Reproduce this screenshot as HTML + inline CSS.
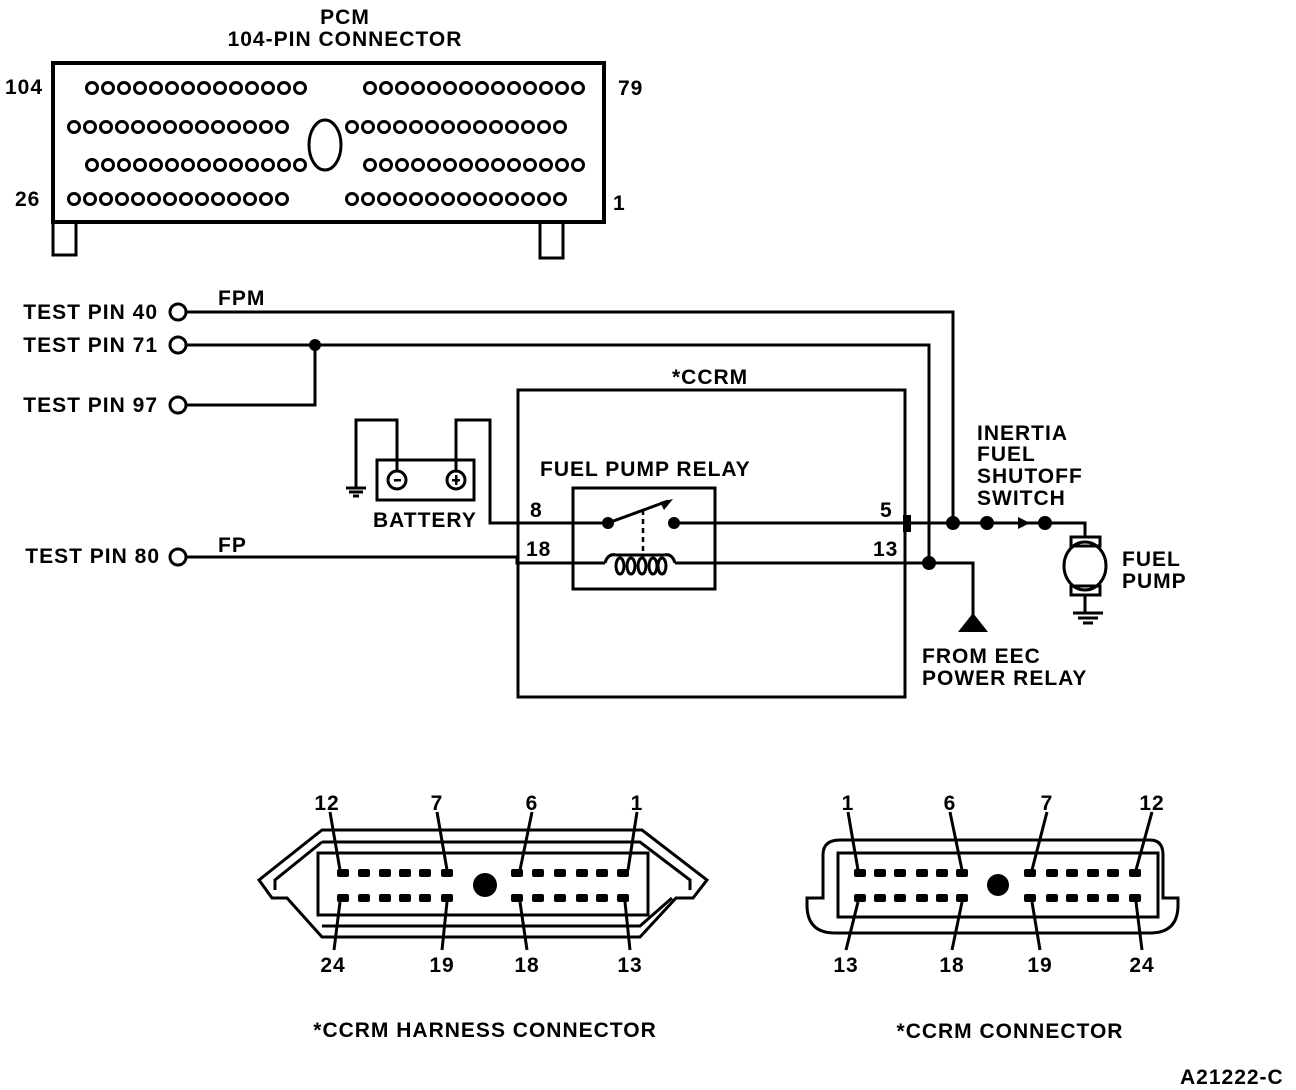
<!DOCTYPE html>
<html><head><meta charset="utf-8"><style>
html,body{margin:0;padding:0;background:#fff;}
svg{display:block;}
text{font-family:"Liberation Sans",sans-serif;font-weight:bold;font-size:21px;letter-spacing:1px;fill:#000;}
</style></head><body>
<svg width="1296" height="1090" viewBox="0 0 1296 1090" xmlns="http://www.w3.org/2000/svg">
<g fill="none" stroke="#000" stroke-width="3">
<!-- PCM -->
<rect x="53" y="63" width="551" height="159" stroke-width="4"/>
<path d="M53 222 V255 H76 V222 M540 224 V258 H563 V224"/>
<ellipse cx="325" cy="145" rx="16" ry="25"/>
</g>
<g fill="none" stroke="#000" stroke-width="3">
<g id="r1">
<circle cx="92" cy="88" r="5.5"/><circle cx="108" cy="88" r="5.5"/><circle cx="124" cy="88" r="5.5"/><circle cx="140" cy="88" r="5.5"/><circle cx="156" cy="88" r="5.5"/><circle cx="172" cy="88" r="5.5"/><circle cx="188" cy="88" r="5.5"/><circle cx="204" cy="88" r="5.5"/><circle cx="220" cy="88" r="5.5"/><circle cx="236" cy="88" r="5.5"/><circle cx="252" cy="88" r="5.5"/><circle cx="268" cy="88" r="5.5"/><circle cx="284" cy="88" r="5.5"/><circle cx="300" cy="88" r="5.5"/>
</g>
<use href="#r1" transform="translate(-18,39)"/>
<use href="#r1" transform="translate(0,77)"/>
<use href="#r1" transform="translate(-18,111)"/>
<use href="#r1" transform="translate(278,0)"/>
<use href="#r1" transform="translate(260,39)"/>
<use href="#r1" transform="translate(278,77)"/>
<use href="#r1" transform="translate(260,111)"/>
</g>
<text x="345" y="24" text-anchor="middle">PCM</text>
<text x="345" y="46" text-anchor="middle">104-PIN CONNECTOR</text>
<text x="5" y="94">104</text>
<text x="15" y="206">26</text>
<text x="618" y="95">79</text>
<text x="613" y="210">1</text>

<!-- test pins -->
<text x="158" y="319" text-anchor="end">TEST PIN 40</text>
<text x="158" y="352" text-anchor="end">TEST PIN 71</text>
<text x="158" y="412" text-anchor="end">TEST PIN 97</text>
<text x="160" y="563" text-anchor="end">TEST PIN 80</text>
<text x="218" y="305">FPM</text>
<text x="218" y="552">FP</text>
<g fill="none" stroke="#000" stroke-width="3">
<circle cx="178" cy="312" r="8"/><circle cx="178" cy="345" r="8"/><circle cx="178" cy="405" r="8"/><circle cx="178" cy="557" r="8"/>
<path d="M186 312 H953 V523"/>
<path d="M186 345 H929 V563"/>
<path d="M315 345 V405 H186"/>
<path d="M186 557 H517 L517 563 H605 M675 563 H973 V615"/>
<rect x="518" y="390" width="387" height="307"/>
<!-- battery -->
<rect x="377" y="460" width="97" height="40"/>
<circle cx="397" cy="480" r="9"/><circle cx="456" cy="480" r="9"/>
<path d="M397 471 V420 H356 V488 M346 488 H366 M349 492 H363 M353 496 H359"/>
<path d="M456 471 V420 H490 V523 H608"/>
<!-- relay -->
<rect x="573" y="488" width="142" height="101"/>
<path d="M608 523 L668 501" />
<path d="M643 510 V557" stroke-dasharray="5,4" stroke-width="2.5"/>
<path d="M674 523 H1085 V537"/>
<path d="M605 563 Q608 553 616 555 M664 555 Q672 553 675 563"/>
<path d="M616 555 H664"/>
<!-- pump -->
<rect x="1071" y="537" width="29" height="9"/>
<ellipse cx="1085" cy="566" rx="21" ry="24"/>
<rect x="1071" y="586" width="29" height="9"/>
<path d="M1085 595 V613 M1073 613 H1103 M1078 618 H1098 M1083 623 H1093"/>
</g>
<g fill="#000">
<text x="530" y="517">8</text>
<text x="526" y="556">18</text>
<text x="880" y="517">5</text>
<text x="873" y="556">13</text>
<text x="540" y="476">FUEL PUMP RELAY</text>
<text x="672" y="384">*CCRM</text>
<text x="373" y="527">BATTERY</text>
<rect x="394" y="479" width="7" height="2.5"/>
<rect x="452" y="479" width="8" height="2.5"/><rect x="455" y="475" width="2.5" height="10"/>
<circle cx="608" cy="523" r="6"/><circle cx="674" cy="523" r="6"/>
<polygon points="673,499 660,502 664,510"/>
<ellipse cx="620" cy="566" rx="4" ry="8" fill="none" stroke="#000" stroke-width="3"/>
<ellipse cx="631" cy="566" rx="4" ry="8" fill="none" stroke="#000" stroke-width="3"/>
<ellipse cx="642" cy="566" rx="4" ry="8" fill="none" stroke="#000" stroke-width="3"/>
<ellipse cx="653" cy="566" rx="4" ry="8" fill="none" stroke="#000" stroke-width="3"/>
<ellipse cx="662" cy="566" rx="4" ry="8" fill="none" stroke="#000" stroke-width="3"/>
<circle cx="315" cy="345" r="6"/>
<rect x="903" y="515" width="8" height="17"/>
<circle cx="953" cy="523" r="7"/><circle cx="987" cy="523" r="7"/><circle cx="1045" cy="523" r="7"/>
<polygon points="1018,517 1030,523 1018,529"/>
<circle cx="929" cy="563" r="7"/>
<polygon points="973,613 958,632 988,632"/>
<text x="977" y="440">INERTIA</text>
<text x="977" y="461">FUEL</text>
<text x="977" y="483">SHUTOFF</text>
<text x="977" y="505">SWITCH</text>
<text x="1122" y="566">FUEL</text>
<text x="1122" y="588">PUMP</text>
<text x="922" y="663">FROM EEC</text>
<text x="922" y="685">POWER RELAY</text>
</g>

<!-- harness connector -->
<g fill="none" stroke="#000" stroke-width="3">
<path d="M322 830 H642 L707 880 L693 898 H676 L640 937 H322 L287 898 H272 L259 880 Z"/>
<path d="M322 842 H640 L690 880 V890 M322 842 L275 880 V890 M322 926 H640 L672 898"/>
<rect x="318" y="853" width="330" height="62"/>
<path d="M330 812 L340 870 M437 812 L447 870 M532 812 L520 870 M637 812 L628 870"/>
<path d="M334 950 L340 902 M442 950 L447 902 M527 950 L520 902 M630 950 L625 902"/>
</g>
<g fill="#000">
<g id="hp">
<rect x="337" y="869" width="12" height="8" rx="2"/><rect x="358" y="869" width="12" height="8" rx="2"/><rect x="379" y="869" width="12" height="8" rx="2"/><rect x="399" y="869" width="12" height="8" rx="2"/><rect x="419" y="869" width="12" height="8" rx="2"/><rect x="441" y="869" width="12" height="8" rx="2"/>
<rect x="511" y="869" width="12" height="8" rx="2"/><rect x="532" y="869" width="12" height="8" rx="2"/><rect x="554" y="869" width="12" height="8" rx="2"/><rect x="576" y="869" width="12" height="8" rx="2"/><rect x="596" y="869" width="12" height="8" rx="2"/><rect x="617" y="869" width="12" height="8" rx="2"/>
</g>
<use href="#hp" transform="translate(0,25)"/>
<circle cx="485" cy="885" r="12"/>
<text x="327" y="810" text-anchor="middle">12</text>
<text x="437" y="810" text-anchor="middle">7</text>
<text x="532" y="810" text-anchor="middle">6</text>
<text x="637" y="810" text-anchor="middle">1</text>
<text x="333" y="972" text-anchor="middle">24</text>
<text x="442" y="972" text-anchor="middle">19</text>
<text x="527" y="972" text-anchor="middle">18</text>
<text x="630" y="972" text-anchor="middle">13</text>
</g>

<!-- ccrm connector -->
<g fill="none" stroke="#000" stroke-width="3">
<path d="M807 898 H823 V855 Q823 840 840 840 H1150 Q1163 840 1163 855 V898 H1178 V905 Q1178 933 1150 933 H835 Q807 933 807 905 Z"/>
<rect x="838" y="853" width="320" height="64"/>
<path d="M848 812 L858 870 M950 812 L962 870 M1047 812 L1032 870 M1152 812 L1136 870"/>
<path d="M846 950 L858 902 M952 950 L962 902 M1040 950 L1032 902 M1142 950 L1136 902"/>
</g>
<g fill="#000">
<g id="cp">
<rect x="854" y="869" width="12" height="8" rx="2"/><rect x="874" y="869" width="12" height="8" rx="2"/><rect x="894" y="869" width="12" height="8" rx="2"/><rect x="916" y="869" width="12" height="8" rx="2"/><rect x="936" y="869" width="12" height="8" rx="2"/><rect x="956" y="869" width="12" height="8" rx="2"/>
<rect x="1024" y="869" width="12" height="8" rx="2"/><rect x="1046" y="869" width="12" height="8" rx="2"/><rect x="1066" y="869" width="12" height="8" rx="2"/><rect x="1087" y="869" width="12" height="8" rx="2"/><rect x="1107" y="869" width="12" height="8" rx="2"/><rect x="1129" y="869" width="12" height="8" rx="2"/>
</g>
<use href="#cp" transform="translate(0,25)"/>
<circle cx="998" cy="885" r="11"/>
<text x="848" y="810" text-anchor="middle">1</text>
<text x="950" y="810" text-anchor="middle">6</text>
<text x="1047" y="810" text-anchor="middle">7</text>
<text x="1152" y="810" text-anchor="middle">12</text>
<text x="846" y="972" text-anchor="middle">13</text>
<text x="952" y="972" text-anchor="middle">18</text>
<text x="1040" y="972" text-anchor="middle">19</text>
<text x="1142" y="972" text-anchor="middle">24</text>
<text x="485" y="1037" text-anchor="middle">*CCRM HARNESS CONNECTOR</text>
<text x="1010" y="1038" text-anchor="middle">*CCRM CONNECTOR</text>
<text x="1180" y="1084">A21222-C</text>
</g>
</svg>
</body></html>
